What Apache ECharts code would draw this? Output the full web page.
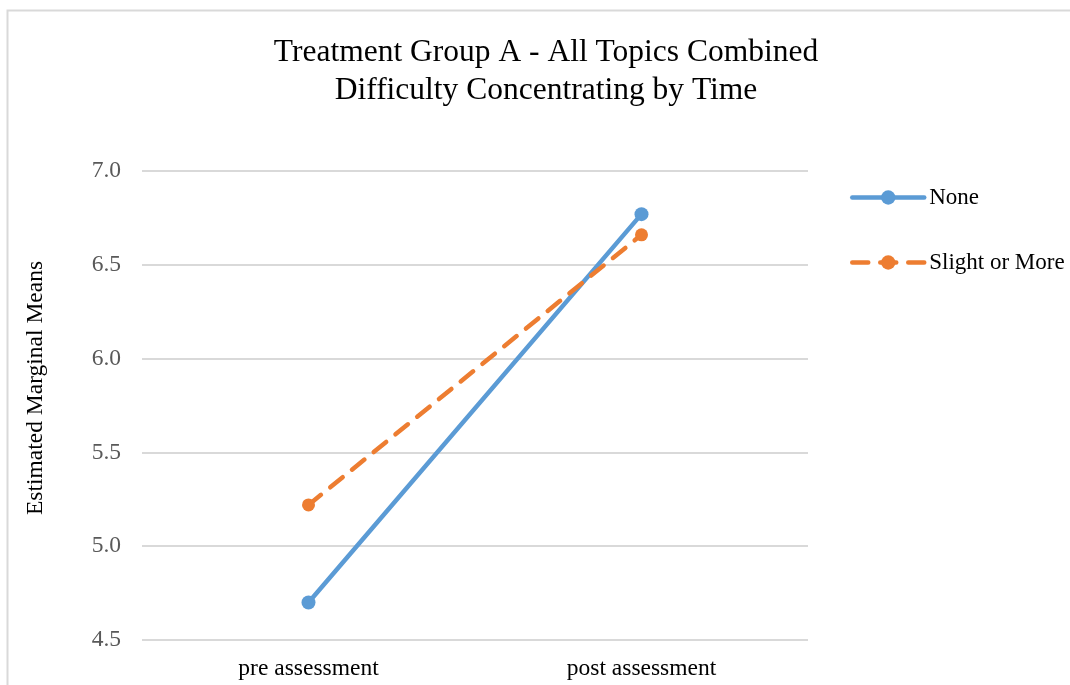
<!DOCTYPE html>
<html><head><meta charset="utf-8">
<script src="https://cdn.jsdelivr.net/npm/echarts@6/dist/echarts.min.js"></script>
<style>html,body{margin:0;padding:0;background:#fff}#c{width:1070px;height:685px}</style>
</head><body><div id="c"></div>
<script>
const categories = ['pre assessment', 'post assessment'];
const noneValues = [4.70, 6.77];
const slightValues = [5.22, 6.66];
const yTicks = [4.5, 5.0, 5.5, 6.0, 6.5, 7.0];

const chart = echarts.init(document.getElementById('c'));
const serif = 'Liberation Serif';
chart.setOption({
  animation: false,
  backgroundColor: '#fff',
  title: {
    text: 'Treatment Group A - All Topics Combined\nDifficulty Concentrating by Time',
    left: 541, top: 29, textAlign: 'center',
    textStyle: { fontFamily: serif, fontSize: 31.5, fontWeight: 'normal', color: '#000', lineHeight: 38 }
  },
  graphic: [{
    type: 'rect', shape: { x: 7.5, y: 10.5, width: 1100, height: 700 },
    style: { fill: 'none', stroke: '#d9d9d9', lineWidth: 2 }, silent: true
  }, {
    type: 'text', x: 36, y: 388, rotation: Math.PI / 2,
    style: { text: 'Estimated Marginal Means', font: '23.5px "Liberation Serif"', fill: '#000',
      align: 'center', verticalAlign: 'middle' }, silent: true
  }],
  legend: {
    orient: 'vertical', left: 845, top: 181, itemGap: 42,
    itemWidth: 72, itemHeight: 18,
    textStyle: { fontFamily: serif, fontSize: 23, color: '#000', padding: [0, 0, 0, 0] },
    data: [
      { name: 'None', lineStyle: { width: 4.5 } },
      { name: 'Slight or More', lineStyle: { width: 4.5 } }
    ]
  },
  grid: { left: 142, right: 262, top: 171, bottom: 45 },
  xAxis: {
    type: 'category', data: categories, boundaryGap: true,
    axisLine: { show: false }, axisTick: { show: false },
    axisLabel: { fontFamily: serif, fontSize: 23.5, color: '#000', margin: 17 }
  },
  yAxis: {
    type: 'value', min: 4.5, max: 7.0, interval: 0.5,
    axisLine: { show: false }, axisTick: { show: false },
    splitLine: { lineStyle: { color: '#d9d9d9', width: 2 } },
    axisLabel: { fontFamily: serif, fontSize: 23.5, color: '#595959', margin: 21,
      formatter: v => v.toFixed(1) }
  },
  series: [{
    name: 'None', type: 'line', data: noneValues,
    symbol: 'circle', symbolSize: 14,
    lineStyle: { color: '#5b9bd5', width: 4.5, cap: 'round' },
    itemStyle: { color: '#5b9bd5' }
  }, {
    name: 'Slight or More', type: 'line', data: slightValues,
    symbol: 'circle', symbolSize: 13,
    lineStyle: { color: '#ed7d31', width: 4.5, type: [16, 12], cap: 'round' },
    itemStyle: { color: '#ed7d31' }
  }]
});
</script></body></html>
